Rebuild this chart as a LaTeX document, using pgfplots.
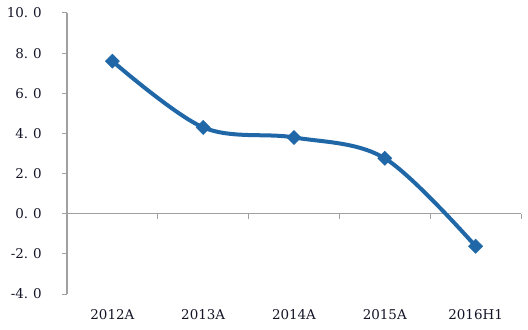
\documentclass[border=0pt]{standalone}
\usepackage{fontspec}
\setmainfont{DejaVu Serif}
\usepackage{pgfplots}
\pgfplotsset{compat=1.18}
\definecolor{lineblue}{RGB}{31,103,166}
\definecolor{axgray}{RGB}{160,160,160}
\definecolor{txt}{RGB}{20,20,40}
\newcommand{\lf}{\fontsize{13.5}{15}\selectfont}
\begin{document}
\begin{tikzpicture}
\begin{axis}[
  scale only axis,
  width=454bp, height=281bp,
  xmin=-0.5, xmax=4.5,
  ymin=-4, ymax=10,
  axis x line=none,
  axis y line*=left,
  ytick={-4,-2,0,2,4,6,8,10},
  yticklabels={-4.\kern5bp0,-2.\kern5bp0,0.\kern5bp0,2.\kern5bp0,4.\kern5bp0,6.\kern5bp0,8.\kern5bp0,10.\kern5bp0},
  y axis line style={draw=axgray, line width=1.2bp},
  ytick style={draw=axgray, line width=1bp},
  tick align=outside,
  major tick length=5bp,
  yticklabel style={font=\lf, text=txt, anchor=east, inner sep=0pt, xshift=-20bp},
  clip=false,
]
\draw[axgray, line width=1.2bp] (axis cs:-0.5,0) -- (axis cs:4.5,0);
\pgfplotsinvokeforeach{0.5,1.5,2.5,3.5,4.5}{
  \draw[axgray, line width=1bp] (axis cs:#1,0) -- ([yshift=-5bp]axis cs:#1,0);
}
\node[font=\lf, text=txt] at (axis cs:0,-4) [yshift=-21bp] {2012A};
\node[font=\lf, text=txt] at (axis cs:1,-4) [yshift=-21bp] {2013A};
\node[font=\lf, text=txt] at (axis cs:2,-4) [yshift=-21bp] {2014A};
\node[font=\lf, text=txt] at (axis cs:3,-4) [yshift=-21bp] {2015A};
\node[font=\lf, text=txt] at (axis cs:4,-4) [yshift=-21bp] {2016H1};
\addplot[lineblue, line width=4bp, smooth, tension=0.55, mark=square*, mark size=5bp, mark options={rotate=45, line width=0.5bp, fill=lineblue}]
  coordinates {(0,7.6) (1,4.3) (2,3.8) (3,2.76) (4,-1.62)};
\end{axis}
\pgfresetboundingbox
\path (current axis.south west) ++(-67bp,-35bp) coordinate (bl);
\path (current axis.north east) ++(7bp,13bp) coordinate (tr);
\path[use as bounding box] (bl) rectangle (tr);
\end{tikzpicture}
\end{document}
